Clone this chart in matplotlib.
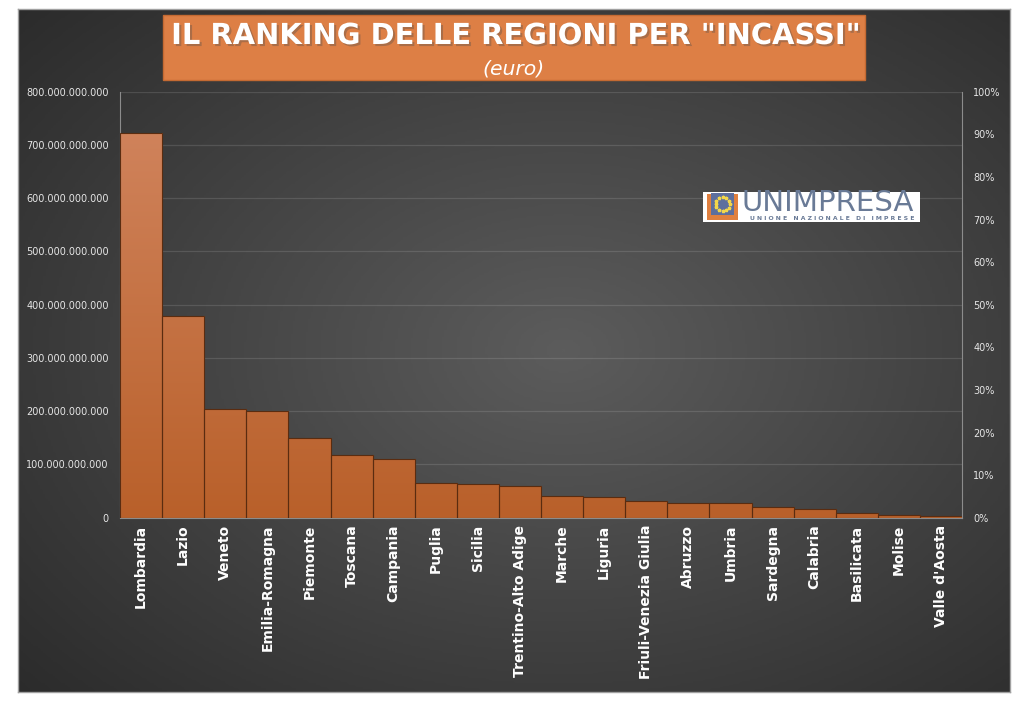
import numpy as np
import matplotlib
matplotlib.use("Agg")
import matplotlib.pyplot as plt
import matplotlib.ticker as ticker
import matplotlib.patheffects as pe
from matplotlib.patches import Rectangle
from matplotlib.colors import LinearSegmentedColormap

# dati
regioni = ['Lombardia', 'Lazio', 'Veneto', 'Emilia-Romagna', 'Piemonte', 'Toscana',
           'Campania', 'Puglia', 'Sicilia', 'Trentino-Alto Adige', 'Marche', 'Liguria',
           'Friuli-Venezia Giulia', 'Abruzzo', 'Umbria', 'Sardegna', 'Calabria',
           'Basilicata', 'Molise', "Valle d'Aosta"]
incassi_mld = [723, 379, 204, 200, 149, 117, 111, 65, 64, 60, 41, 39, 31, 28,
               27.5, 21, 17, 8, 4.5, 3.7]
incassi = [v * 1e9 for v in incassi_mld]
y_ticks = np.arange(0, 800e9 + 1, 100e9)
pct_ticks = np.arange(0, 1.01, 0.1)

W, H = 1024, 706
fig = plt.figure(figsize=(W / 100, H / 100), dpi=100, facecolor='white')


def px(x, y):
    return x / W, 1 - y / H


def fit_text(t, width_px):
    # scala il font per avere la larghezza voluta
    r = fig.canvas.get_renderer()
    w = t.get_window_extent(r).width
    t.set_fontsize(t.get_fontsize() * width_px / w)


# sfondo scuro con gradiente radiale
x0, y0 = px(18, 692)
bg = fig.add_axes([x0, y0, 992 / W, 683 / H], zorder=0)
gx, gy = np.meshgrid(np.linspace(0, 1, 400), np.linspace(0, 1, 300))
d = np.sqrt(((gx - 0.55) / 0.75) ** 2 + ((gy - 0.5) / 0.75) ** 2)
bg_cmap = LinearSegmentedColormap.from_list('bg', ['#5c5c5c', '#2b2b2b'])
bg.imshow(np.clip(d, 0, 1), cmap=bg_cmap, vmin=0, vmax=1, aspect='auto',
          extent=[0, 1, 0, 1], origin='lower')
bg.set_xticks([])
bg.set_yticks([])
for s in bg.spines.values():
    s.set_color('#a0a0a0')
    s.set_linewidth(1)

# grafico principale
ax = fig.add_axes([120 / W, 1 - 517.7 / H, 842 / W, 426 / H], zorder=1)
ax.set_facecolor('none')
xpos = np.arange(len(regioni))
bars = ax.bar(xpos, incassi, width=1.0, facecolor='none', edgecolor='#5a2c10',
              linewidth=0.8, zorder=3)

bar_cmap = LinearSegmentedColormap.from_list('bar', ['#b9602a', '#d28660'])
grad = np.linspace(0, 1, 256).reshape(-1, 1)
for x, rect in zip(xpos, bars):
    im = ax.imshow(grad, cmap=bar_cmap, aspect='auto', origin='lower',
                   extent=[x - 0.5, x + 0.5, 0, 800e9], zorder=2)
    im.set_clip_path(rect)

ax.set_xlim(-0.5, len(regioni) - 0.5)
ax.set_ylim(0, 800e9)
ax.set_yticks(y_ticks)
ax.yaxis.set_major_formatter(ticker.FuncFormatter(lambda v, p: f'{v:,.0f}'.replace(',', '.')))
ax.grid(axis='y', color='white', alpha=0.12, linewidth=0.9, zorder=1)
ax.set_axisbelow(True)
ax.set_xticks(xpos)
ax.set_xticklabels(regioni, rotation=90, fontsize=10, fontweight='bold', color='white')
ax.tick_params(axis='x', length=0, pad=5)
ax.tick_params(axis='y', length=0, pad=8, labelsize=7, labelcolor='#e6e6e6')
for k in ['left', 'bottom']:
    ax.spines[k].set_color('#8c8c8c')
ax.spines['top'].set_visible(False)
ax.spines['right'].set_visible(False)

ax2 = ax.twinx()
ax2.set_ylim(0, 1)
ax2.set_yticks(pct_ticks)
ax2.yaxis.set_major_formatter(ticker.PercentFormatter(1.0, decimals=0))
ax2.tick_params(axis='y', length=0, pad=8, labelsize=7, labelcolor='#e6e6e6')
for k in ['left', 'top', 'bottom']:
    ax2.spines[k].set_visible(False)
ax2.spines['right'].set_color('#8c8c8c')

# titolo
bx, by = px(163, 80)
fig.add_artist(Rectangle((bx, by), 702 / W, 65 / H, transform=fig.transFigure,
                         facecolor='#dd7f45', edgecolor='#c46a32', linewidth=1, zorder=5))
tx, ty = px(514, 36)
title = fig.text(tx, ty, 'IL RANKING DELLE REGIONI PER "INCASSI"', ha='center', va='center',
                 fontsize=24, fontweight='bold', color='white', zorder=6,
                 path_effects=[pe.withSimplePatchShadow(offset=(1.5, -1.5), alpha=0.35)])
fit_text(title, 692)
sx, sy = px(514, 69)
sub = fig.text(sx, sy, '(euro)', ha='center', va='center', fontsize=13,
               style='italic', color='white', zorder=6)
fit_text(sub, 62)

# logo UNIMPRESA
lx, ly = px(703, 222)
fig.add_artist(Rectangle((lx, ly), 217 / W, 30 / H, transform=fig.transFigure,
                         facecolor='white', edgecolor='none', zorder=5))
ux, uy = px(707, 220)
fig.add_artist(Rectangle((ux, uy), 31 / W, 26 / H, transform=fig.transFigure,
                         facecolor='#e0803f', edgecolor='none', zorder=6))
ix, iy = px(711, 215)
fig.add_artist(Rectangle((ix, iy), 23 / W, 22 / H, transform=fig.transFigure,
                         facecolor='#5d6f9e', edgecolor='none', zorder=7))
cx, cy = px(722.5, 204)
ang = np.linspace(0, 2 * np.pi, 12, endpoint=False)
fig.lines.append(plt.Line2D(cx + 7 / W * np.cos(ang), cy + 7 / H * np.sin(ang),
                            transform=fig.transFigure, linestyle='none', marker='*',
                            markersize=2.5, color='#f2d64b', zorder=8))
nx, ny = px(741, 211)
name = fig.text(nx, ny, 'UNIMPRESA', ha='left', va='baseline', fontsize=15,
                color='#697a96', zorder=6)
fit_text(name, 172)
mx, my = px(750, 220.5)
motto = fig.text(mx, my, 'U N I O N E   N A Z I O N A L E   D I   I M P R E S E', ha='left',
                 va='baseline', fontsize=4, fontweight='bold', color='#697a96', zorder=6)
fit_text(motto, 165)

fig.savefig('out.png', dpi=100, facecolor=fig.get_facecolor())
